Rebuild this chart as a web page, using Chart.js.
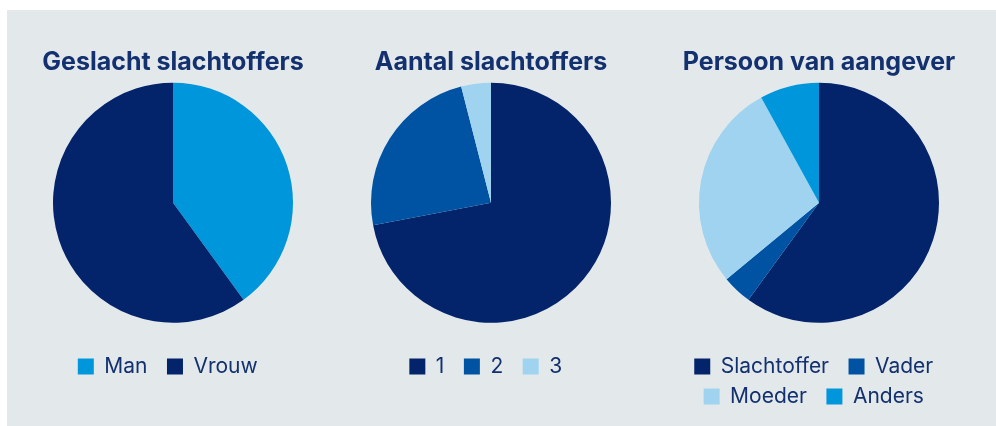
<!DOCTYPE html>
<html>
<head>
<meta charset="utf-8">
<script src="https://cdn.jsdelivr.net/npm/chart.js@4/dist/chart.umd.min.js"></script>
<style>
	html, body { margin: 0; padding: 0; background: #ffffff; }
	#panel { position: absolute; left: 7px; top: 10px; width: 989px; height: 416px; background: #e3e9ea; }
	canvas { position: absolute; top: 10px; }
</style>
</head>
<body>
<div id="panel"></div>
<canvas id="chartGeslacht" width="300" height="416" style="left:23px"></canvas>
<canvas id="chartAantal" width="300" height="416" style="left:341px"></canvas>
<canvas id="chartPersoon" width="300" height="416" style="left:669px"></canvas>
<script>
const geslachtLabels = ["Man", "Vrouw"];
const geslachtValues = [40, 60];

const aantalLabels = ["1", "2", "3"];
const aantalValues = [72, 24, 4];

const persoonLabels = ["Slachtoffer", "Vader", "Moeder", "Anders"];
const persoonValues = [60, 4, 28, 8];

const navy = "#03236a";
const midBlue = "#0053a3";
const lightBlue = "#9fd3ef";
const brightBlue = "#0096db";
const textColor = "#13306f";

function pieChart(canvasId, title, labels, values, colors, bottomPad) {
	const ctx = document.getElementById(canvasId).getContext("2d");
	return new Chart(ctx, {
		type: "pie",
		data: {
			labels: labels,
			datasets: [{
				data: values,
				backgroundColor: colors,
				borderWidth: 0,
				radius: 120,
			}],
		},
		options: {
			responsive: false,
			animation: false,
			devicePixelRatio: 1,
			layout: { padding: { bottom: bottomPad } },
			plugins: {
				tooltip: { enabled: false },
				title: {
					display: true,
					text: title,
					color: textColor,
					font: { family: "Inter", size: 25, weight: "bold", lineHeight: 1.2 },
					padding: { top: 37.5, bottom: -19 },
				},
				legend: {
					position: "bottom",
					labels: {
						color: textColor,
						boxWidth: 16,
						boxHeight: 16,
						padding: 9,
						font: { family: "Inter", size: 21 },
						generateLabels: function (chart) {
							const items = Chart.overrides.pie.plugins.legend.labels.generateLabels(chart);
							items.forEach((item) => { item.text = item.text + "\u2002"; item.lineWidth = 0; });
							return items;
						},
					},
				},
			},
		},
	});
}

pieChart("chartGeslacht", "Geslacht slachtoffers", geslachtLabels, geslachtValues, [brightBlue, navy], 39);
pieChart("chartAantal", "Aantal slachtoffers", aantalLabels, aantalValues, [navy, midBlue, lightBlue], 39);
pieChart("chartPersoon", "Persoon van aangever", persoonLabels, persoonValues, [navy, midBlue, lightBlue, brightBlue], 9);
</script>
</body>
</html>
